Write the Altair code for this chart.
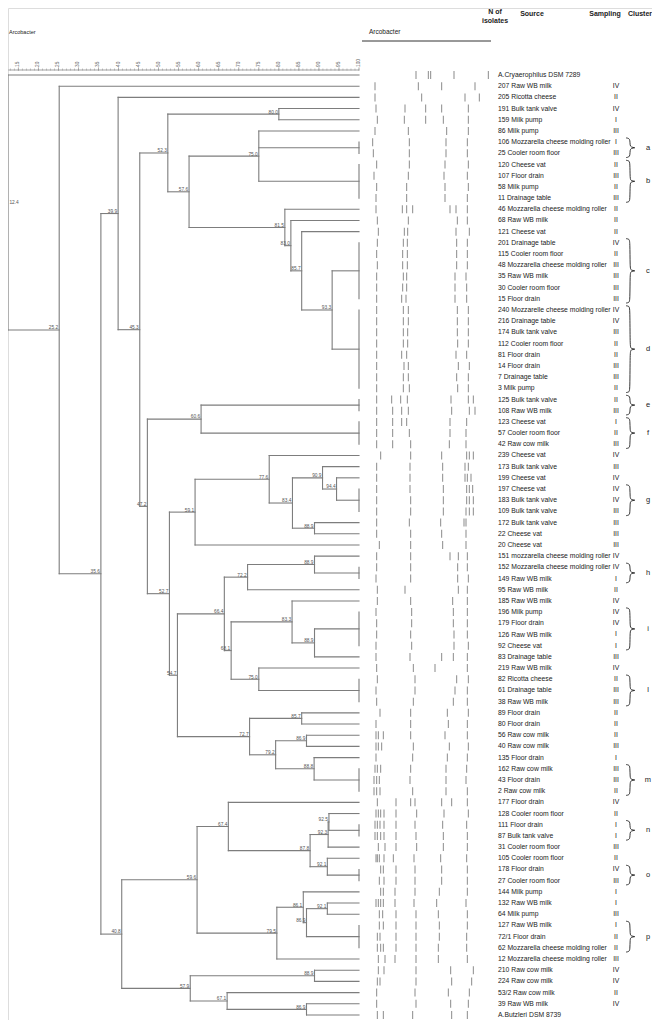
import altair as alt
import pandas as pd

# ---------------- data ----------------
names = [
    "A.Cryaerophilus DSM 7289", "207 Raw WB milk", "205 Ricotta cheese", "191 Bulk tank valve",
    "159 Milk pump", "86 Milk pump", "106 Mozzarella cheese molding roller", "25 Cooler room floor",
    "120 Cheese vat", "107 Floor drain", "58 Milk pump", "11 Drainage table",
    "46 Mozzarella cheese molding roller", "68 Raw WB milk", "121 Cheese vat", "201 Drainage table",
    "115 Cooler room floor", "48 Mozzarella cheese molding roller", "35 Raw WB milk", "30 Cooler room floor",
    "15 Floor drain", "240 Mozzarelle cheese molding roller", "216 Drainage table", "174 Bulk tank valve",
    "112 Cooler room floor", "81 Floor drain", "14 Floor drain", "7 Drainage table",
    "3 Milk pump", "125 Bulk tank valve", "108 Raw WB milk", "123 Cheese vat",
    "57 Cooler room floor", "42 Raw cow milk", "239 Cheese vat", "173 Bulk tank valve",
    "199 Cheese vat", "197 Cheese vat", "183 Bulk tank valve", "109 Bulk tank valve",
    "172 Bulk tank valve", "22 Cheese vat", "20 Cheese vat", "151 mozzarella cheese molding roller",
    "152 Mozzarella cheese molding roller", "149 Raw WB milk", "95 Raw WB milk", "185 Raw WB milk",
    "196 Milk pump", "179 Floor drain", "126 Raw WB milk", "92 Cheese vat",
    "83 Drainage table", "219 Raw WB milk", "82 Ricotta cheese", "61 Drainage table",
    "38 Raw WB milk", "89 Floor drain", "80 Floor drain", "56 Raw cow milk",
    "40 Raw cow milk", "135 Floor drain", "162 Raw cow milk", "43 Floor drain",
    "2 Raw cow milk", "177 Floor drain", "128 Cooler room floor", "111 Floor drain",
    "87 Bulk tank valve", "31 Cooler room floor", "105 Cooler room floor", "178 Floor drain",
    "27 Cooler room floor", "144 Milk pump", "132 Raw WB milk", "64 Milk pump",
    "127 Raw WB milk", "72/1 Floor drain", "62 Mozzarella cheese molding roller", "12 Mozzarella cheese molding roller",
    "210 Raw cow milk", "224 Raw cow milk", "53/2 Raw cow milk", "39 Raw WB milk",
    "A.Butzleri DSM 8739",
]

sampling = [
    "", "IV", "II", "IV", "I", "III", "I", "III", "II", "III",
    "II", "III", "II", "II", "II", "IV", "II", "III", "III", "III",
    "III", "IV", "IV", "III", "II", "II", "III", "III", "II", "II",
    "III", "I", "II", "III", "IV", "III", "IV", "IV", "IV", "III",
    "III", "III", "III", "IV", "IV", "I", "II", "IV", "IV", "IV",
    "I", "I", "III", "IV", "II", "III", "III", "II", "II", "II",
    "III", "I", "III", "III", "II", "IV", "II", "I", "I", "III",
    "II", "IV", "III", "I", "I", "III", "I", "II", "II", "III",
    "IV", "IV", "II", "IV", "",
]

# band positions along the gel lane (arbitrary migration units)
bands = [
    [168, 205, 212, 282, 385], [45, 175, 245, 345], [45, 185, 315, 358], [48, 135, 197, 245, 325],
    [52, 133, 197, 250, 325], [45, 145, 260, 325], [38, 148, 258, 322], [40, 148, 258, 322],
    [50, 148, 255, 325], [42, 145, 252, 322], [50, 140, 255, 325], [48, 140, 255, 322],
    [48, 127, 140, 158, 270, 288, 322], [52, 145, 292, 322], [55, 133, 143, 288, 328], [52, 130, 142, 290, 322],
    [50, 128, 142, 290, 322], [52, 128, 142, 290, 322], [50, 130, 140, 285, 318], [50, 128, 140, 285, 320],
    [50, 125, 138, 285, 320], [50, 130, 145, 292, 325], [50, 130, 145, 292, 325], [50, 130, 143, 292, 325],
    [50, 130, 143, 293, 325], [50, 125, 140, 288, 320], [50, 132, 145, 295, 328], [50, 130, 145, 290, 325],
    [50, 130, 148, 293, 325], [50, 95, 122, 142, 273, 325, 340], [50, 98, 125, 145, 275, 328, 345],
    [50, 98, 125, 140, 270, 320], [50, 98, 148, 270, 318], [50, 98, 152, 268, 318],
    [62, 152, 245, 320, 328, 340], [50, 150, 248, 315, 325], [50, 150, 248, 315, 322, 333],
    [50, 150, 250, 320, 328, 338], [50, 152, 250, 320, 328, 340], [50, 152, 250, 318, 328, 340],
    [50, 148, 242, 312, 318], [50, 152, 245, 318], [58, 152, 248, 318], [50, 152, 270, 295, 322],
    [50, 152, 293, 322], [48, 152, 293, 325], [52, 135, 295, 322], [52, 152, 278, 322],
    [48, 155, 280, 322], [50, 155, 280, 322], [50, 152, 282, 322], [48, 155, 282, 325],
    [48, 150, 245, 280, 322], [50, 160, 225, 322], [52, 165, 290, 325], [48, 165, 285, 322],
    [50, 160, 280, 322], [60, 152, 262, 325], [48, 152, 265, 322], [48, 55, 70, 152, 255, 322],
    [48, 55, 65, 160, 268, 325], [48, 158, 262, 322], [45, 52, 62, 152, 258, 320], [42, 50, 58, 150, 258, 318],
    [42, 50, 60, 158, 258, 322], [52, 108, 152, 165, 245, 275, 322], [48, 55, 62, 72, 108, 170, 252, 325],
    [45, 52, 60, 72, 108, 165, 248, 320], [45, 52, 62, 72, 108, 168, 250, 322], [55, 75, 108, 170, 250, 322],
    [48, 52, 58, 72, 100, 162, 242, 320], [62, 70, 108, 165, 245, 322], [58, 72, 108, 165, 245, 322],
    [62, 70, 105, 165, 238, 322], [48, 55, 62, 70, 105, 162, 230, 318], [58, 68, 108, 168, 235, 322],
    [58, 70, 108, 168, 238, 322], [52, 60, 108, 168, 238, 320], [52, 62, 70, 108, 168, 235, 320],
    [55, 75, 105, 168, 235, 322], [55, 72, 168, 272, 340], [52, 60, 168, 275, 335],
    [50, 165, 265, 328], [50, 168, 272, 325], [52, 70, 158, 275, 322],
]

cluster_names = ["a", "b", "c", "d", "e", "f", "g", "h", "i", "l", "m", "n", "o", "p"]
cluster_first = [7, 9, 16, 22, 30, 32, 38, 45, 49, 55, 63, 68, 72, 77]
cluster_last = [8, 12, 21, 29, 31, 34, 40, 46, 52, 57, 65, 69, 73, 79]

axis_major = [15, 20, 25, 30, 35, 40, 45, 50, 55, 60, 65, 70, 75, 80, 85, 90, 95, 100]
axis_minor = list(range(13, 101))

# dendrogram: [similarity, child, child, ...]; integer children are row numbers
nK = [93.3, [100, 16, 17, 18, 19, 20, 21], [100, 22, 23, 24, 25, 26, 27, 28, 29]]
nJ = [85.7, 15, nK]
nI = [83.0, 14, nJ]
nH = [81.5, 13, nI]
nG = [75.0, 6, [100, 7, 8], [100, 9, 10, 11, 12]]
nF = [57.6, nG, nH]
nE = [80.0, 4, 5]
nC = [52.3, nE, nF]
nL = [60.6, [100, 30, 31], [100, 32, 33, 34]]
nV = [94.4, 37, [100, 38, 39, 40]]
nT = [90.9, 36, nV]
nU = [88.9, 41, 42]
nS = [83.4, nT, nU]
nR = [77.6, 35, nS]
nN = [59.1, nR, 43]
nZ = [88.9, 44, [100, 45, 46]]
nX = [72.2, nZ, 47]
nAC = [88.9, [100, 49, 50, 51, 52], 53]
nAA = [83.3, 48, nAC]
nAB = [75.0, 54, [100, 55, 56, 57]]
nY = [68.1, nAA, nAB]
nW = [66.4, nX, nY]
nT2 = [86.9, 60, 61]
nT3 = [88.8, 62, [100, 63, 64, 65]]
nT4 = [79.2, nT2, nT3]
nT1 = [85.7, 58, 59]
nOl = [72.7, nT1, nT4]
nO = [54.7, nW, nOl]
nM = [52.7, nN, nO]
nD = [47.2, nL, nM]
nB = [45.3, nC, nD]
nA = [39.9, 3, nB]
nK1 = [92.5, 67, [100, 68, 69]]
nK2 = [92.3, nK1, 70]
nK4 = [92.1, 71, [100, 72, 73]]
nK3 = [87.8, nK2, nK4]
nKp = [67.4, 66, nK3]
nL1 = [92.1, 75, 76]
nL2 = [86.9, nL1, [100, 77, 78, 79]]
nL3 = [86.1, 74, nL2]
nL4 = [79.5, nL3, 80]
nQ1 = [59.6, nKp, nL4]
nN1 = [88.9, 81, 82]
nN2 = [86.9, 84, 85]
nN3 = [67.1, 83, nN2]
nN4 = [57.9, nN1, nN3]
nQ = [40.8, nQ1, nN4]
nP = [35.6, nA, nQ]
n25 = [25.2, 2, nP]
tree = [12.4, 1, n25]

# ---------------- layout ----------------
W, H = 644, 1012
PITCH = 11.19
ROW1_PX = 67
ydom = [1 - ROW1_PX / PITCH, 1 + (H - ROW1_PX) / PITCH]
yscale = alt.Scale(domain=ydom, reverse=True, nice=False, zero=False)
xs_d = alt.Scale(domain=[12.425, 100], range=[0, 351], nice=False, zero=False)
xs_g = alt.Scale(domain=[0, 420], range=[352, 492], nice=False, zero=False)
xs_b = alt.Scale(domain=[0, 9], range=[618, 627], nice=False, zero=False)

LINE = "#7d7d7d"
TXT = "#222222"
TILT = 0.01  # a hair of rotation keeps text antialiasing grey

# walk the tree into segments
hseg, vseg, nodes = [], [], []


def walk(node):
    if isinstance(node, int):
        return float(node), 100.0
    sim = node[0]
    kids = [walk(k) for k in node[1:]]
    for ky, kx in kids:
        if kx > sim:
            hseg.append({"x": sim, "x2": kx, "y": ky})
    y = (kids[0][0] + kids[-1][0]) / 2
    vseg.append({"x": sim, "y": kids[0][0], "y2": kids[-1][0]})
    if sim < 100:
        nodes.append({"x": sim, "y": y, "label": f"{sim:.1f}"})
    return y, sim


walk(tree)
root_label = [n for n in nodes if n["x"] == tree[0]]
inner_labels = [n for n in nodes if n["x"] != tree[0]]

df_h = pd.DataFrame(hseg)
df_v = pd.DataFrame(vseg)
df_n = pd.DataFrame(inner_labels)
df_r = pd.DataFrame(root_label)


def Y(f):
    return alt.Y(f, scale=yscale, axis=None)


hl = alt.Chart(df_h).mark_rule(color=LINE, strokeWidth=1.1, strokeCap="square").encode(
    x=alt.X("x:Q", scale=xs_d, axis=None), x2="x2:Q", y=Y("y:Q"))
vl = alt.Chart(df_v).mark_rule(color=LINE, strokeWidth=1.1, strokeCap="square").encode(
    x=alt.X("x:Q", scale=xs_d, axis=None), y=Y("y:Q"), y2="y2:Q")
nl = alt.Chart(df_n).mark_text(align="right", baseline="alphabetic", dx=-1, dy=-0.6, angle=TILT,
                               fontSize=4.8, color="#555555").encode(
    x=alt.X("x:Q", scale=xs_d, axis=None), y=Y("y:Q"), text="label:N")
rl = alt.Chart(df_r).mark_text(align="left", baseline="middle", dx=1.5, angle=TILT,
                               fontSize=4.8, color="#555555").encode(
    x=alt.X("x:Q", scale=xs_d, axis=None), y=Y("y:Q"), text="label:N")

df_axis = pd.DataFrame({"a": [axis_minor[0] - 0.5], "b": [100]})
ax_line = alt.Chart(df_axis).mark_rule(color="#8a8a8a", strokeWidth=0.8).encode(
    x=alt.X("a:Q", scale=xs_d, axis=None), x2="b:Q", y=alt.value(62))
ax_minor = alt.Chart(pd.DataFrame({"v": axis_minor})).mark_tick(
    orient="vertical", size=2, thickness=0.7, color="#8a8a8a").encode(
    x=alt.X("v:Q", scale=xs_d, axis=None), y=alt.value(61.5))
ax_major = alt.Chart(pd.DataFrame({"v": axis_major})).mark_tick(
    orient="vertical", size=3.5, thickness=0.8, color="#8a8a8a").encode(
    x=alt.X("v:Q", scale=xs_d, axis=None), y=alt.value(61))
ax_lab = alt.Chart(pd.DataFrame({"v": axis_major})).mark_text(
    angle=270, align="left", baseline="middle", fontSize=4.8, color="#666666").encode(
    x=alt.X("v:Q", scale=xs_d, axis=None), y=alt.value(59), text="v:N")

dendro = alt.layer(hl, vl, nl, rl, ax_line, ax_minor, ax_major, ax_lab)

# gel bands
band_rows = [{"row": i + 1, "pos": p} for i, lane in enumerate(bands) for p in lane]
gel_b = alt.Chart(pd.DataFrame(band_rows)).mark_tick(
    orient="vertical", size=8, thickness=1, color="#5a5a5a").encode(
    x=alt.X("pos:Q", scale=xs_g, axis=None), y=Y("row:Q"))
gel_u = alt.Chart(pd.DataFrame({"a": [6], "b": [393]})).mark_rule(color="#333333", strokeWidth=1).encode(
    x=alt.X("a:Q", scale=xs_g, axis=None), x2="b:Q", y=alt.value(33))
gel = alt.layer(gel_b, gel_u)

# braces
brace_pts = []
for name, f, l in zip(cluster_names, cluster_first, cluster_last):
    top, bot, mid, d = f - 0.38, l + 0.38, (f + l) / 2, 0.22
    shape = [(0, top), (3, top + 0.04), (4, top + d), (4, mid - d), (5, mid - 0.05), (9, mid),
             (9, mid), (5, mid + 0.05), (4, mid + d), (4, bot - d), (3, bot - 0.04), (0, bot)]
    for i, (bx, by) in enumerate(shape):
        brace_pts.append({"cluster": name, "i": i, "bx": bx, "by": by})
braces = alt.Chart(pd.DataFrame(brace_pts)).mark_line(
    interpolate="basis", color=TXT, strokeWidth=0.9).encode(
    x=alt.X("bx:Q", scale=xs_b, axis=None), y=Y("by:Q"), detail="cluster:N", order="i:Q")

# table text
df_t = pd.DataFrame({"row": list(range(1, len(names) + 1)), "name": names, "samp": sampling})
src = alt.Chart(df_t).mark_text(align="left", baseline="middle", fontSize=6.8, color=TXT, angle=TILT).encode(
    x=alt.value(490), y=Y("row:Q"), text="name:N")
smp = alt.Chart(df_t).mark_text(align="center", baseline="middle", fontSize=6.8, color=TXT, angle=TILT).encode(
    x=alt.value(608), y=Y("row:Q"), text="samp:N")
df_c = pd.DataFrame({"c": cluster_names,
                     "mid": [(f + l) / 2 for f, l in zip(cluster_first, cluster_last)]})
clet = alt.Chart(df_c).mark_text(align="center", baseline="middle", fontSize=7.5, color=TXT, angle=TILT).encode(
    x=alt.value(640), y=Y("mid:Q"), text="c:N")


def label(text, x, y, size=7, weight="bold", align="center"):
    return alt.Chart(pd.DataFrame({"t": [text]})).mark_text(
        align=align, baseline="top", fontSize=size, fontWeight=weight, color=TXT, angle=TILT).encode(
        x=alt.value(x), y=alt.value(y), text="t:N")


headers = [
    label("N of", 487, 0),
    label("isolates", 487, 9),
    label("Source", 524, 2),
    label("Sampling", 597, 2),
    label("Cluster", 632, 2),
    label("Arcobacter", 1, 22, size=5.5, weight="normal", align="left"),
    label("Arcobacter", 361, 21, size=6.5, weight="normal", align="left"),
]

table = alt.layer(src, smp, clet, *headers)

chart = alt.layer(dendro, gel, braces, table).resolve_scale(x="independent").properties(
    width=W, height=H, padding=0, autosize=alt.AutoSizeParams(type="none")
).configure_view(stroke=None).configure(font="Liberation Sans")

chart.save("out.html", embed_options={"renderer": "svg", "actions": False})
